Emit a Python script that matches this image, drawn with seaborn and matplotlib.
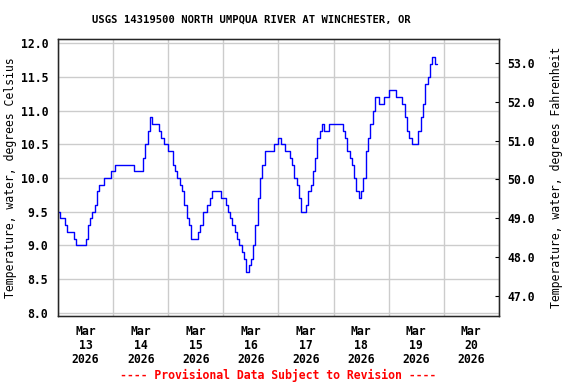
import pandas as pd
import seaborn as sns
import matplotlib.pyplot as plt
import matplotlib.dates as mdates
from matplotlib.ticker import FormatStrFormatter, NullFormatter

title = "USGS 14319500 NORTH UMPQUA RIVER AT WINCHESTER, OR"
footer = "---- Provisional Data Subject to Revision ----"
start = "2026-03-13 00:00"

# hourly water temperature, degrees Celsius
temp_c = [
    9.5, 9.4, 9.4, 9.3, 9.2, 9.2, 9.2, 9.1, 9.0, 9.0, 9.0, 9.0,
    9.1, 9.3, 9.4, 9.5, 9.6, 9.8, 9.9, 9.9, 10.0, 10.0, 10.0, 10.1,
    10.1, 10.2, 10.2, 10.2, 10.2, 10.2, 10.2, 10.2, 10.2, 10.1, 10.1, 10.1,
    10.1, 10.3, 10.5, 10.7, 10.9, 10.8, 10.8, 10.8, 10.7, 10.6, 10.5, 10.5,
    10.4, 10.4, 10.2, 10.1, 10.0, 9.9, 9.8, 9.6, 9.4, 9.3, 9.1, 9.1,
    9.1, 9.2, 9.3, 9.5, 9.5, 9.6, 9.7, 9.8, 9.8, 9.8, 9.8, 9.7,
    9.7, 9.6, 9.5, 9.4, 9.3, 9.2, 9.1, 9.0, 8.9, 8.8, 8.6, 8.7,
    8.8, 9.0, 9.3, 9.7, 10.0, 10.2, 10.4, 10.4, 10.4, 10.4, 10.5, 10.5,
    10.6, 10.5, 10.5, 10.4, 10.4, 10.3, 10.2, 10.0, 9.9, 9.7, 9.5, 9.5,
    9.6, 9.8, 9.9, 10.1, 10.3, 10.6, 10.7, 10.8, 10.7, 10.7, 10.8, 10.8,
    10.8, 10.8, 10.8, 10.8, 10.7, 10.6, 10.4, 10.3, 10.2, 10.0, 9.8, 9.7,
    9.8, 10.0, 10.4, 10.6, 10.8, 11.0, 11.2, 11.2, 11.1, 11.1, 11.2, 11.2,
    11.3, 11.3, 11.3, 11.2, 11.2, 11.2, 11.1, 10.9, 10.7, 10.6, 10.5, 10.5,
    10.5, 10.7, 10.9, 11.1, 11.4, 11.5, 11.7, 11.8, 11.7, 11.7,
]
c_ticks = [8.0, 8.5, 9.0, 9.5, 10.0, 10.5, 11.0, 11.5, 12.0]
f_ticks = [47.0, 48.0, 49.0, 50.0, 51.0, 52.0, 53.0]

sns.set_style("white")
plt.rcParams["font.family"] = ["DejaVu Sans Mono"]
plt.rcParams["font.weight"] = "bold"
plt.rcParams["font.size"] = 8.3
for key in ["text.color", "axes.labelcolor", "xtick.color", "ytick.color"]:
    plt.rcParams[key] = "black"

df = pd.DataFrame({
    "time": pd.date_range(start, periods=len(temp_c), freq="h"),
    "temp": temp_c,
})

fig = plt.figure(figsize=(5.76, 3.84), dpi=100)
ax = fig.add_axes([0.1007, 0.178, 0.7653, 0.7197])

sns.lineplot(data=df, x="time", y="temp", ax=ax, color="#0000ff",
             linewidth=1.0, drawstyle="steps-post")

ax.set_xlim(pd.Timestamp("2026-03-13"), pd.Timestamp("2026-03-21"))
ax.set_ylim(7.955, 12.06)
ax.set_yticks(c_ticks)
ax.yaxis.set_major_formatter(FormatStrFormatter("%.1f"))
ax.xaxis.set_major_locator(mdates.DayLocator())
ax.xaxis.set_major_formatter(NullFormatter())
ax.xaxis.set_minor_locator(mdates.HourLocator(byhour=12))
ax.xaxis.set_minor_formatter(mdates.DateFormatter("%b\n%d\n%Y"))
ax.tick_params(axis="x", which="both", length=0, pad=7)
ax.tick_params(axis="y", length=0, pad=7)
for lbl in ax.get_xticklabels(minor=True):
    lbl.set_linespacing(1.1)
ax.grid(True, which="major", color="#cccccc", linewidth=1.0)
ax.set_xlabel("")
ax.set_ylabel("Temperature, water, degrees Celsius", labelpad=3)
for s in ax.spines.values():
    s.set_color("black")
    s.set_linewidth(1.0)

ax2 = ax.twinx()
ax2.set_ylim(46.48, 53.62)
ax2.set_yticks(f_ticks)
ax2.yaxis.set_major_formatter(FormatStrFormatter("%.1f"))
ax2.tick_params(axis="y", direction="in", length=3, width=0.8, pad=6)
ax2.set_ylabel("Temperature, water, degrees Fahrenheit", labelpad=11)
ax2.grid(False)

fig.text(0.436, 0.948, title, ha="center", va="center", fontsize=7.6)
fig.text(0.482, 0.023, footer, ha="center", va="center", color="#ff0000")

fig.savefig("out.png", dpi=100)
